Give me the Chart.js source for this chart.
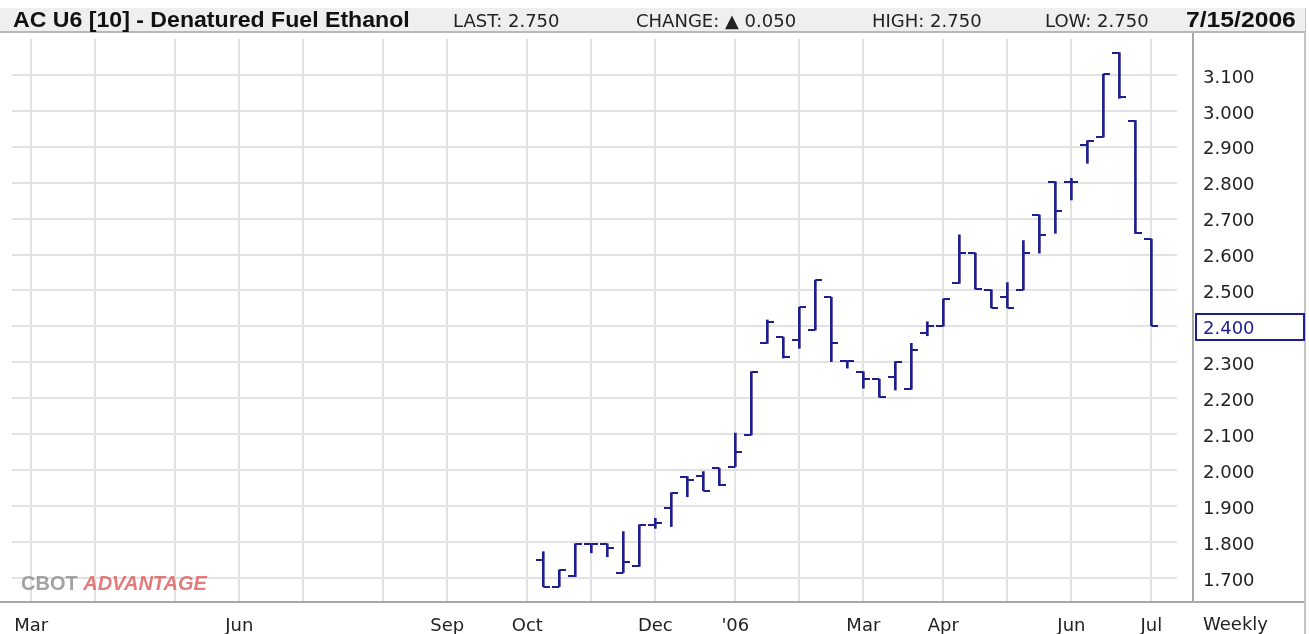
<!DOCTYPE html>
<html>
<head>
<meta charset="utf-8">
<script src="https://cdn.jsdelivr.net/npm/chart.js@4.4.1/dist/chart.umd.min.js"></script>
<style>
html,body{margin:0;padding:0;background:#fff;}
#wrap{position:relative;width:1309px;height:634px;overflow:hidden;background:#fff;}
#c{position:absolute;left:0;top:0;}
.hdr{position:absolute;left:0;top:8px;width:1305px;height:23px;background:#efefef;border-bottom:2px solid #b8b8b8;}
.t{position:absolute;white-space:nowrap;font-family:"DejaVu Sans",sans-serif;font-size:18px;color:#222;line-height:18px;top:12px;}
.b{position:absolute;white-space:nowrap;font-family:"Liberation Sans",Arial,sans-serif;font-weight:bold;font-size:22px;color:#111;line-height:22px;top:9px;transform-origin:0 0;}
.wm{position:absolute;left:21px;top:573px;white-space:nowrap;font-family:"Liberation Sans",Arial,sans-serif;font-weight:bold;font-size:20px;line-height:20px;opacity:0.8;}
.wm .c1{color:#8c8c8c;}
.wm .c2{color:#e05a5a;font-style:italic;}
</style>
</head>
<body>
<div id="wrap">
  <canvas id="c" width="1309" height="634"></canvas>
  <div class="hdr"></div>
  <div class="b" id="title" style="left:13px;">AC U6 [10] - Denatured Fuel Ethanol</div>
  <div class="t" style="left:453px;">LAST: 2.750</div>
  <div class="t" style="left:636px;">CHANGE: ▲ 0.050</div>
  <div class="t" style="left:872px;">HIGH: 2.750</div>
  <div class="t" style="left:1045px;">LOW: 2.750</div>
  <div class="b" id="date" style="left:1186px;">7/15/2006</div>
  <div class="t" style="left:1203px;top:615px;">Weekly</div>
  <div class="wm"><span class="c1">CBOT </span><span class="c2">ADVANTAGE</span></div>
</div>
<script>
// ---- data (weekly OHLC, week index 0 = first week of Oct 2005) ----
const weekIndex = [0,1,2,3,4,5,6,7,8,9,10,11,12,13,14,15,16,17,18,19,20,21,22,23,24,25,26,27,28,29,30,31,32,33,34,35,36,37,38];
const openP  = [1.750,1.676,1.704,1.795,1.795,1.715,1.732,1.848,1.894,1.981,1.984,2.005,2.010,2.098,2.353,2.370,2.362,2.390,2.481,2.304,2.274,2.253,2.258,2.225,2.381,2.401,2.520,2.604,2.502,2.481,2.502,2.710,2.803,2.803,2.905,2.927,3.162,2.973,2.643];
const highP  = [1.773,1.722,1.795,1.795,1.795,1.829,1.848,1.866,1.937,1.982,1.996,2.005,2.103,2.274,2.418,2.370,2.453,2.529,2.481,2.304,2.274,2.253,2.302,2.353,2.413,2.476,2.655,2.604,2.502,2.522,2.639,2.710,2.803,2.812,2.917,3.102,3.162,2.973,2.643];
const lowP   = [1.676,1.676,1.704,1.770,1.759,1.715,1.732,1.838,1.843,1.926,1.943,1.957,2.010,2.098,2.353,2.312,2.339,2.390,2.302,2.284,2.228,2.203,2.223,2.225,2.374,2.401,2.520,2.504,2.452,2.452,2.502,2.604,2.659,2.752,2.854,2.927,3.035,2.659,2.402];
const closeP = [1.676,1.722,1.795,1.795,1.784,1.743,1.848,1.853,1.937,1.973,1.943,1.959,2.050,2.274,2.413,2.316,2.453,2.529,2.353,2.304,2.253,2.203,2.302,2.335,2.401,2.476,2.604,2.504,2.452,2.452,2.604,2.655,2.720,2.803,2.917,3.102,3.038,2.659,2.402];

// month gridlines (week index) and their labels
const monthWeeks  = [-32,-28,-23,-19,-15,-10,-6,-1,3,7,12,16,20,25,29,33,38];
const monthLabels = ['Mar','','','Jun','','','Sep','Oct','','Dec',"'06",'','Mar','Apr','','Jun','Jul'];

// price axis ticks
const yTickValues = [1.7,1.8,1.9,2.0,2.1,2.2,2.3,2.4,2.5,2.6,2.7,2.8,2.9,3.0,3.1];
const yTickLabels = ['1.700','1.800','1.900','2.000','2.100','2.200','2.300','2.400','2.500','2.600','2.700','2.800','2.900','3.000','3.100'];

const NAVY = '#1e1e8f';
const GRID = '#e2e2e2';

function tickImg(side){
  const c = document.createElement('canvas');
  c.width = 14; c.height = 2;
  const g = c.getContext('2d');
  g.fillStyle = NAVY;
  g.fillRect(side === 'left' ? 0 : 7, 0, 7, 2);
  return c;
}
const openImg = tickImg('left');
const closeImg = tickImg('right');

const lastClose = closeP[closeP.length - 1];
const lastTickIdx = yTickValues.reduce((b, v, i) => Math.abs(v - lastClose) < Math.abs(yTickValues[b] - lastClose) ? i : b, 0);

const frame = {
  id: 'frame',
  beforeDraw(chart){
    const ctx = chart.ctx;
    ctx.save();
    ctx.fillStyle = '#fff';
    ctx.fillRect(0, 0, chart.width, chart.height);
    ctx.restore();
  },
  afterDraw(chart){
    const ctx = chart.ctx, y = chart.scales.y;
    ctx.save();
    ctx.strokeStyle = '#a8a8a8';
    ctx.lineWidth = 2;
    ctx.beginPath();
    ctx.moveTo(1193, 33); ctx.lineTo(1193, 602);
    ctx.moveTo(0, 602); ctx.lineTo(1306, 602);
    ctx.stroke();
    ctx.strokeStyle = '#c4c4c4';
    ctx.beginPath();
    ctx.moveTo(1305, 8); ctx.lineTo(1305, 634);
    ctx.stroke();
    // marker box around the last-price tick
    const py = y.getPixelForValue(yTickValues[lastTickIdx]);
    ctx.strokeStyle = NAVY;
    ctx.lineWidth = 2;
    ctx.strokeRect(1196, Math.round(py) - 12, 108, 26);
    ctx.restore();
  }
};

function noPad(s){ s.paddingLeft = 0; s.paddingRight = 0; s.paddingTop = 0; s.paddingBottom = 0; }

Chart.defaults.font.family = '"DejaVu Sans", sans-serif';
Chart.defaults.font.size = 18;
Chart.defaults.color = '#222';

new Chart(document.getElementById('c'), {
  data: {
    datasets: [
      {
        type: 'bar',
        data: weekIndex.map((w, i) => ({x: w, y: [lowP[i], highP[i]]})),
        backgroundColor: NAVY,
        borderWidth: 0,
        barThickness: 2,
        grouped: false,
        order: 2
      },
      {
        type: 'line',
        data: weekIndex.map((w, i) => ({x: w, y: openP[i]})),
        showLine: false,
        pointStyle: openImg,
        pointRadius: 7,
        pointHoverRadius: 7,
        order: 1
      },
      {
        type: 'line',
        data: weekIndex.map((w, i) => ({x: w, y: closeP[i]})),
        showLine: false,
        pointStyle: closeImg,
        pointRadius: 7,
        pointHoverRadius: 7,
        order: 1
      }
    ]
  },
  options: {
    responsive: false,
    animation: false,
    devicePixelRatio: 1,
    layout: {padding: {left: 12, top: 39, right: 0, bottom: 0}},
    plugins: {legend: {display: false}, tooltip: {enabled: false}},
    scales: {
      x: {
        type: 'linear',
        min: -33.2,
        max: 39.6,
        offset: false,
        afterBuildTicks: s => { s.ticks = monthWeeks.map(v => ({value: v})); },
        afterFit: s => { s.height = 32; noPad(s); },
        grid: {color: GRID, lineWidth: 2, drawTicks: false, offset: false},
        border: {display: false},
        ticks: {
          autoSkip: false,
          maxRotation: 0,
          padding: 14,
          color: '#222',
          callback: (v, i) => monthLabels[i]
        }
      },
      y: {
        type: 'linear',
        position: 'right',
        min: 1.633,
        max: 3.2,
        afterBuildTicks: s => { s.ticks = yTickValues.map(v => ({value: v})); },
        afterFit: s => { s.width = 132; noPad(s); },
        grid: {color: GRID, lineWidth: 2, drawTicks: false},
        border: {display: false},
        ticks: {
          padding: 26,
          labelOffset: 3,
          color: c => c.index === lastTickIdx ? NAVY : '#222',
          callback: (v, i) => yTickLabels[i]
        }
      }
    }
  },
  plugins: [frame]
});

function fitWidth(id, target){
  const el = document.getElementById(id);
  const w = el.offsetWidth;
  if (w > 0) el.style.transform = 'scaleX(' + (target / w) + ')';
}
fitWidth('title', 397);
fitWidth('date', 110);
</script>
</body>
</html>
